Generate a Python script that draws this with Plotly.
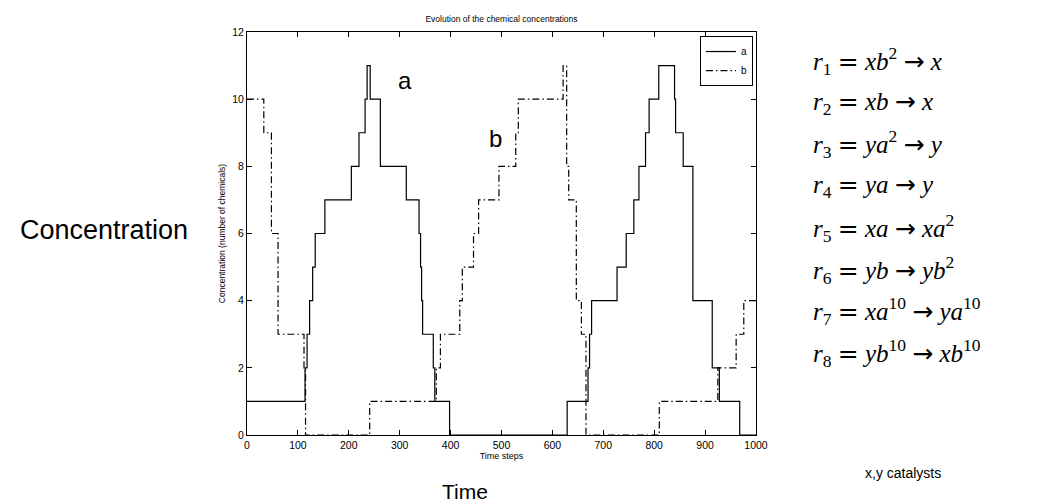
import plotly.graph_objects as go

# ---- data: step-change times and levels ----
a_time = [0, 114, 118, 123, 129, 134, 153, 205, 220, 232, 236, 242, 262, 313, 338, 341, 343,
          345, 366, 369, 398, 629, 670, 673, 677, 727, 745, 760, 770, 783, 790, 809, 840,
          842, 857, 876, 914, 928, 968, 1000]
a_value = [1, 2, 3, 4, 5, 6, 7, 8, 9, 10, 11, 10, 8, 7, 6, 5, 4,
           3, 2, 1, 0, 1, 2, 3, 4, 5, 6, 7, 8, 9, 10, 11, 10,
           9, 8, 4, 2, 1, 0, 0]

b_time = [0, 33, 48, 61, 112, 115, 241, 372, 380, 418, 423, 445, 455, 495, 528, 533, 621,
          628, 632, 647, 657, 666, 810, 925, 961, 976, 1000]
b_value = [10, 9, 6, 3, 2, 0, 1, 2, 3, 4, 5, 6, 7, 8, 9, 10, 11,
           8, 7, 4, 3, 0, 1, 2, 3, 4, 4]

x_ticks = [0, 100, 200, 300, 400, 500, 600, 700, 800, 900, 1000]
y_ticks = [0, 2, 4, 6, 8, 10, 12]

SP = "&nbsp;"
EQ = f'{SP}<span style="font-family:DejaVu Sans">=</span>{SP}'
AR = f'{SP}<span style="font-family:DejaVu Sans">→</span>{SP}'
equations = [
    f"<i>r</i><sub>1</sub>{EQ}<i>xb</i><sup>2</sup>{AR}<i>x</i>",
    f"<i>r</i><sub>2</sub>{EQ}<i>xb</i>{AR}<i>x</i>",
    f"<i>r</i><sub>3</sub>{EQ}<i>ya</i><sup>2</sup>{AR}<i>y</i>",
    f"<i>r</i><sub>4</sub>{EQ}<i>ya</i>{AR}<i>y</i>",
    f"<i>r</i><sub>5</sub>{EQ}<i>xa</i>{AR}<i>xa</i><sup>2</sup>",
    f"<i>r</i><sub>6</sub>{EQ}<i>yb</i>{AR}<i>yb</i><sup>2</sup>",
    f"<i>r</i><sub>7</sub>{EQ}<i>xa</i><sup>10</sup>{AR}<i>ya</i><sup>10</sup>",
    f"<i>r</i><sub>8</sub>{EQ}<i>yb</i><sup>10</sup>{AR}<i>xb</i><sup>10</sup>",
]

W, H = 1042, 504
L, R, T, B = 239, 294, 24, 77
pw, ph = W - L - R, H - T - B
FONT = "Liberation Sans, Arial"

fig = go.Figure()
fig.add_trace(go.Scatter(x=a_time, y=a_value, mode="lines", name="a",
                         line=dict(color="black", width=1.2, shape="hv")))
fig.add_trace(go.Scatter(x=b_time, y=b_value, mode="lines", name="b",
                         line=dict(color="black", width=1.2, shape="hv", dash="7px,3px,1.5px,3px")))

axis_common = dict(showline=True, linecolor="black", linewidth=1, mirror="allticks",
                   ticks="inside", ticklen=5, tickcolor="black", showgrid=False, zeroline=False,
                   tickfont=dict(family=FONT, size=10.5, color="black"))

fig.update_layout(
    width=W, height=H,
    margin=dict(l=L, r=R, t=T, b=B),
    paper_bgcolor="white", plot_bgcolor="white",
    title=dict(text="Evolution of the chemical concentrations", x=(L + pw / 2) / W, xanchor="center",
               y=1 - 11 / H, yanchor="middle",
               font=dict(family=FONT, size=8.5, color="black")),
    xaxis=dict(range=[0, 1000], tickvals=x_ticks, **axis_common,
               title=dict(text="Time steps", standoff=1,
                          font=dict(family=FONT, size=9, color="black"))),
    yaxis=dict(range=[0, 12], tickvals=y_ticks, **axis_common,
               title=dict(text="Concentration (number of chemicals)", standoff=5,
                          font=dict(family=FONT, size=8.5, color="black"))),
    legend=dict(x=0.994, y=0.99, xanchor="right", yanchor="top",
                bordercolor="black", borderwidth=1, bgcolor="white",
                font=dict(family=FONT, size=10, color="black"),
                itemwidth=30, tracegroupgap=0),
    showlegend=True,
)

def px2paper(x, y):
    return (x - L) / pw, 1 - (y - T) / ph

anns = []
def add_text(text, x, y, size, family=FONT, xanchor="center"):
    xp, yp = px2paper(x, y)
    anns.append(dict(text=text, x=xp, y=yp, xref="paper", yref="paper", showarrow=False,
                     xanchor=xanchor, yanchor="middle",
                     font=dict(family=family, size=size, color="black")))

add_text("Concentration", 96, 222, 27)
add_text("Time", 457, 484, 21)
add_text("a", 397, 72, 24)
add_text("b", 487, 130, 24)
add_text("x,y catalysts", 895, 465, 14)
for i, eq in enumerate(equations):
    add_text(eq, 803, 53 + i * 41.7, 25, family="Liberation Serif, Times New Roman", xanchor="left")

fig.update_layout(annotations=anns)
fig.write_html("out.html")
